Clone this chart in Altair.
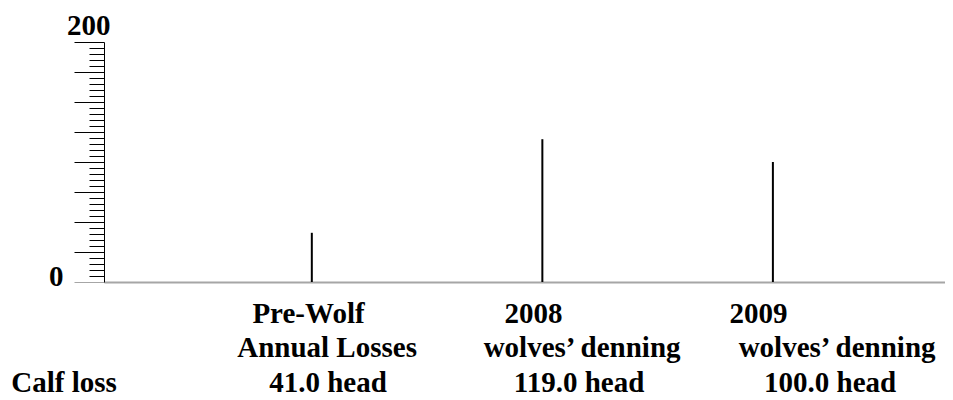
import altair as alt
import pandas as pd

# ---- data ----
periods = ["Pre-Wolf", "2008", "2009"]
descriptions = ["Annual Losses", "wolves’ denning", "wolves’ denning"]
calf_loss = [41.0, 119.0, 100.0]
row_label = ["Calf loss"]
y_ticks = list(range(0, 201, 5))

df = pd.DataFrame({"period": periods, "desc": descriptions, "loss": calf_loss})
df["loss_text"] = [f"{v:.1f} head" for v in calf_loss]

FONT = "Times New Roman, Liberation Serif, DejaVu Serif, serif"
FS = 29
W, H = 841, 240

base = alt.Chart(df)

bars = base.mark_bar(size=2, color="black").encode(
    x=alt.X(
        "period:N", sort=periods,
        scale=alt.Scale(type="point", padding=0.824, align=0.547),
        axis=alt.Axis(title=None, labels=False, ticks=False,
                      domainColor="#a6a6a6", domainWidth=2),
    ),
    y=alt.Y(
        "loss:Q",
        scale=alt.Scale(domain=[0, 200], nice=False),
        axis=alt.Axis(
            title=None, values=y_ticks, grid=False,
            domainColor="black", domainWidth=1,
            tickColor={"condition": {"test": "datum.value == 0", "value": "#a6a6a6"}, "value": "black"},
            tickSize={"condition": {"test": "datum.value % 25 == 0", "value": 30}, "value": 15},
            tickWidth=1,
            labelExpr="datum.value == 0 || datum.value == 200 ? datum.label : ''",
            labelOverlap=False,
            labelFont=FONT, labelFontSize=FS, labelFontWeight="bold", labelColor="black",
            labelAlign="right", labelBaseline="alphabetic",
            labelPadding={"condition": {"test": "datum.value == 200", "value": -36}, "value": 11},
            labelOffset={"condition": {"test": "datum.value == 200", "value": -8}, "value": 3},
        ),
    ),
)

def row(field, y, padding, align):
    return base.mark_text(font=FONT, fontSize=FS, fontWeight="bold", color="black",
                          align="center", baseline="alphabetic").encode(
        x=alt.X("period:N", sort=periods,
                scale=alt.Scale(type="point", padding=padding, align=align), axis=None),
        y=alt.value(y),
        text=f"{field}:N",
    )

row1 = row("period", 281, 0.869, 0.523)
row2 = row("desc", 315, 0.649, 0.674)
row3 = row("loss_text", 350, 0.675, 0.661)

label = alt.Chart(pd.DataFrame({"label": row_label})).mark_text(
    font=FONT, fontSize=FS, fontWeight="bold", color="black",
    align="center", baseline="alphabetic").encode(
    x=alt.value(-40), y=alt.value(350), text="label:N")

chart = alt.layer(bars, row1, row2, row3, label).resolve_scale(x="independent").properties(
    width=W, height=H,
    padding={"left": 96, "top": 34, "right": 0, "bottom": 116},
    autosize=alt.AutoSizeParams(type="none"),
).configure_view(stroke=None)

chart.save("out.html", embed_options={"renderer": "svg", "actions": False})
